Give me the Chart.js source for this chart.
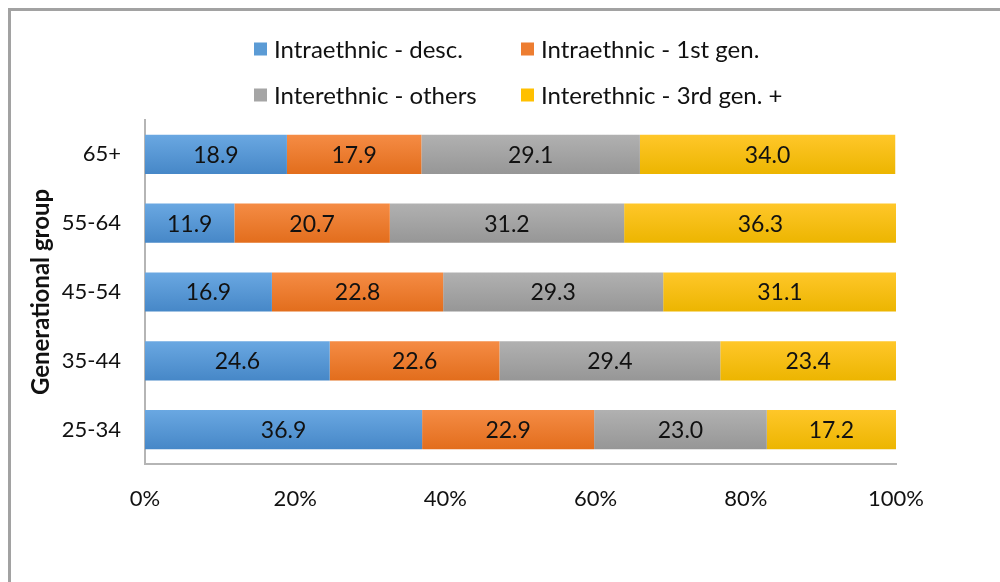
<!DOCTYPE html>
<html>
<head>
<meta charset="utf-8">
<script src="https://cdn.jsdelivr.net/npm/chart.js@4.4.1/dist/chart.umd.min.js"></script>
<style>
  html, body { margin: 0; padding: 0; background: #ffffff; }
  #wrap { position: relative; width: 1000px; height: 582px; overflow: hidden; }
  canvas { display: block; }
</style>
</head>
<body>
<div id="wrap"><canvas id="chart" width="1000" height="582"></canvas></div>
<script>
// Age groups, top to bottom
const groups = ['65+', '55-64', '45-54', '35-44', '25-34'];

// Share of couples (%) by type of union
const intraDesc   = [18.9, 11.9, 16.9, 24.6, 36.9];
const intraFirst  = [17.9, 20.7, 22.8, 22.6, 22.9];
const interOthers = [29.1, 31.2, 29.3, 29.4, 23.0];
const interThird  = [34.0, 36.3, 31.1, 23.4, 17.2];

const seriesNames = [
  'Intraethnic - desc.',
  'Intraethnic - 1st gen.',
  'Interethnic - others',
  'Interethnic - 3rd gen. +'
];

const xTicks = [0, 20, 40, 60, 80, 100];

const palette = [
  { solid: '#5b9bd5', top: '#6aa8e2', bottom: '#4687c7' },
  { solid: '#ed7d31', top: '#f58c45', bottom: '#e26d1c' },
  { solid: '#a5a5a5', top: '#b1b1b1', bottom: '#969696' },
  { solid: '#ffc000', top: '#ffc72a', bottom: '#ecb500' }
];

const FONT = 'Lato, "Open Sans", sans-serif';

// Soft vertical shading on each bar
function barFill(p) {
  return (ctx) => {
    const chart = ctx.chart;
    const ys = chart.scales && chart.scales.y;
    if (ctx.type !== 'data' || !ys || !chart.chartArea) return p.solid;
    const yc = ys.getPixelForValue(ctx.dataIndex);
    const half = 20;
    const g = chart.ctx.createLinearGradient(0, yc - half, 0, yc + half);
    g.addColorStop(0, p.top);
    g.addColorStop(1, p.bottom);
    return g;
  };
}

const values = [intraDesc, intraFirst, interOthers, interThird];

const datasets = values.map((arr, i) => ({
  label: seriesNames[i],
  data: arr,
  backgroundColor: barFill(palette[i]),
  borderWidth: 0,
  categoryPercentage: 0.57,
  barPercentage: 1.0
}));

// Outer frame of the figure
const framePlugin = {
  id: 'frame',
  beforeDraw(chart) {
    const c = chart.ctx;
    c.save();
    c.fillStyle = '#ffffff';
    c.fillRect(0, 0, chart.width, chart.height);
    c.strokeStyle = '#a2a2a2';
    c.lineWidth = 3;
    c.beginPath();
    c.moveTo(9.5, chart.height + 5);
    c.lineTo(9.5, 9.5);
    c.lineTo(chart.width + 5, 9.5);
    c.stroke();
    c.restore();
  }
};

// Value printed in the middle of each segment
const valueLabels = {
  id: 'valueLabels',
  afterDatasetsDraw(chart) {
    const c = chart.ctx;
    c.save();
    c.font = '23px ' + FONT;
    c.fillStyle = '#111111';
    c.textAlign = 'center';
    c.textBaseline = 'middle';
    chart.data.datasets.forEach((ds, di) => {
      const meta = chart.getDatasetMeta(di);
      meta.data.forEach((bar, i) => {
        const { x, base, y } = bar.getProps(['x', 'base', 'y'], true);
        c.fillText(ds.data[i].toFixed(1), (x + base) / 2, y + 1);
      });
    });
    c.restore();
  }
};

// Two-column legend above the plot
const gridLegend = {
  id: 'gridLegend',
  afterDraw(chart) {
    const c = chart.ctx;
    const cols = [254, 521];
    const rows = [49, 95];
    c.save();
    c.font = '24px ' + FONT;
    c.textBaseline = 'middle';
    c.textAlign = 'left';
    chart.data.datasets.forEach((ds, i) => {
      const x = cols[i % 2];
      const y = rows[Math.floor(i / 2)];
      c.fillStyle = palette[i].solid;
      c.fillRect(x, y - 6.5, 13, 13);
      c.fillStyle = '#111111';
      c.fillText(ds.label, x + 20, y + 1);
    });
    c.restore();
  }
};

new Chart(document.getElementById('chart'), {
  type: 'bar',
  data: { labels: groups, datasets },
  options: {
    indexAxis: 'y',
    responsive: false,
    animation: false,
    devicePixelRatio: 1,
    layout: { padding: { top: 120, right: 104, left: 0, bottom: 0 } },
    plugins: {
      legend: { display: false },
      tooltip: { enabled: false }
    },
    scales: {
      x: {
        stacked: true,
        min: 0,
        max: 100,
        afterBuildTicks(scale) {
          scale.ticks = xTicks.map(v => ({ value: v }));
        },
        afterFit(scale) { scale.height = 118; },
        grid: { display: false, drawTicks: false },
        border: { display: true, color: '#b5b5b5', width: 2 },
        ticks: {
          padding: 22,
          color: '#111111',
          font: { family: FONT, size: 22 },
          callback: (v) => v + '%'
        }
      },
      y: {
        stacked: true,
        afterFit(scale) { scale.width = 145; },
        grid: { display: false, drawTicks: false },
        border: { display: true, color: '#b5b5b5', width: 2 },
        ticks: {
          padding: 24,
          color: '#111111',
          font: { family: FONT, size: 22 }
        },
        title: {
          display: true,
          text: 'Generational group',
          color: '#111111',
          font: { family: FONT, size: 24, weight: 'bold' },
          padding: { top: 27, bottom: 0 }
        }
      }
    }
  },
  plugins: [framePlugin, valueLabels, gridLegend]
});
</script>
</body>
</html>
